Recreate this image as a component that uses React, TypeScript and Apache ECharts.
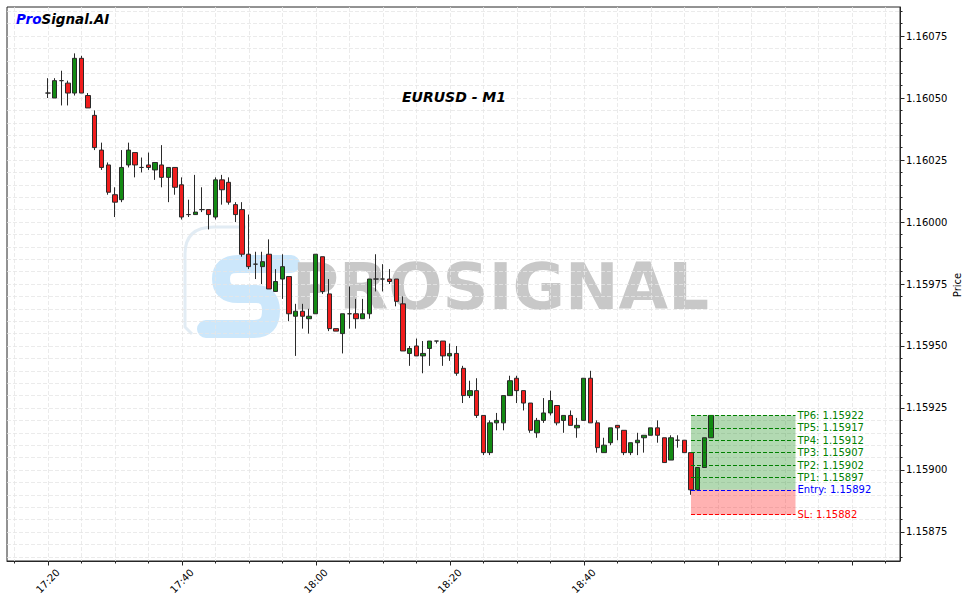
import React, { useEffect, useRef } from 'react';
import * as echarts from 'echarts';

// ---- data ----
const symbolTitle = 'EURUSD - M1';
const startTime = '17:20';
const opens = [
  1.16052, 1.1605, 1.16057, 1.16056, 1.16052, 1.16066, 1.16051, 1.16043, 1.16029, 1.16023,
  1.16011, 1.16009, 1.16023, 1.16028, 1.16022, 1.16023, 1.16021, 1.16023, 1.16018, 1.16022,
  1.16015, 1.16003, 1.16003, 1.16005, 1.16005, 1.16002, 1.16017, 1.16016, 1.16007, 1.16005,
  1.15987, 1.15983, 1.15982, 1.15987, 1.15972, 1.15977, 1.15978, 1.15962, 1.15964, 1.15961,
  1.15963, 1.15986, 1.15971, 1.15957, 1.15955, 1.15963, 1.15963, 1.15961, 1.15963, 1.15977,
  1.15977, 1.15977, 1.15977, 1.15967, 1.15947, 1.1595, 1.15946, 1.15949, 1.15952, 1.15952,
  1.15946, 1.15947, 1.15941, 1.1593, 1.15932, 1.15922, 1.15907, 1.15919, 1.15919, 1.1593,
  1.15937, 1.15932, 1.15927, 1.15915, 1.1592, 1.15923, 1.15926, 1.1592, 1.15922, 1.15917,
  1.1592, 1.15937, 1.15919, 1.15907, 1.15911, 1.15918, 1.15916, 1.15907, 1.15911, 1.15913,
  1.15914, 1.15917, 1.15913, 1.15904, 1.15912, 1.15912, 1.15907, 1.15892, 1.15901, 1.15913,
];
const closes = [
  1.16052, 1.16057, 1.16057, 1.16052, 1.16066, 1.16052, 1.16046, 1.1603, 1.16022, 1.16012,
  1.16008, 1.16022, 1.16029, 1.16023, 1.16022, 1.16022, 1.16024, 1.16018, 1.16022, 1.16014,
  1.16002, 1.16003, 1.16004, 1.16005, 1.16003, 1.16017, 1.16013, 1.16008, 1.16003, 1.15987,
  1.15982, 1.15983, 1.15984, 1.15973, 1.15976, 1.15982, 1.15963, 1.15964, 1.15962, 1.15962,
  1.15987, 1.15972, 1.15957, 1.15956, 1.15963, 1.15963, 1.15961, 1.15963, 1.15977, 1.15977,
  1.15977, 1.15976, 1.15968, 1.15948, 1.15949, 1.15946, 1.15947, 1.15952, 1.15952, 1.15946,
  1.15947, 1.15939, 1.1593, 1.15932, 1.15922, 1.15907, 1.15919, 1.1592, 1.1593, 1.15936,
  1.15932, 1.15927, 1.15916, 1.1592, 1.15923, 1.15928, 1.15919, 1.15922, 1.15918, 1.15918,
  1.15937, 1.15919, 1.15909, 1.1591, 1.15917, 1.15917, 1.15907, 1.15911, 1.15912, 1.15914,
  1.15917, 1.15914, 1.15903, 1.15913, 1.15912, 1.15907, 1.15892, 1.15901, 1.15913, 1.15922,
];
const lows = [
  1.1605, 1.1605, 1.16047, 1.16047, 1.16051, 1.16052, 1.16046, 1.16029, 1.16021, 1.16011,
  1.16002, 1.16008, 1.16022, 1.16018, 1.1602, 1.16021, 1.16017, 1.16014, 1.16008, 1.16011,
  1.16001, 1.16002, 1.16003, 1.16004, 1.15997, 1.16001, 1.16007, 1.16007, 1.16, 1.15986,
  1.15981, 1.15977, 1.15975, 1.15973, 1.15972, 1.15969, 1.1596, 1.15946, 1.15957, 1.15955,
  1.15963, 1.15971, 1.15956, 1.15956, 1.15947, 1.15957, 1.15957, 1.15961, 1.15961, 1.15972,
  1.15972, 1.15975, 1.15966, 1.15948, 1.15942, 1.15946, 1.15939, 1.15942, 1.15951, 1.15942,
  1.15944, 1.15938, 1.15927, 1.15929, 1.15921, 1.15906, 1.15906, 1.15916, 1.15916, 1.1593,
  1.15927, 1.15924, 1.15915, 1.15913, 1.15919, 1.15922, 1.15918, 1.15915, 1.15918, 1.15913,
  1.1592, 1.15919, 1.15907, 1.15907, 1.1591, 1.15912, 1.15906, 1.15906, 1.15906, 1.15907,
  1.15914, 1.15911, 1.15903, 1.15904, 1.15909, 1.15907, 1.1589, 1.15892, 1.15901, 1.15913,
];
const highs = [
  1.16058, 1.16058, 1.16061, 1.16057, 1.16068, 1.16067, 1.16052, 1.16045, 1.16032, 1.16024,
  1.16014, 1.16029, 1.16032, 1.16028, 1.16026, 1.16028, 1.16024, 1.16031, 1.16022, 1.16022,
  1.16018, 1.16009, 1.16019, 1.16014, 1.16005, 1.16018, 1.16019, 1.16018, 1.16008, 1.16008,
  1.16003, 1.15988, 1.15988, 1.15993, 1.15981, 1.15987, 1.15978, 1.15967, 1.15967, 1.15965,
  1.15987, 1.15986, 1.15977, 1.15957, 1.15963, 1.15974, 1.15969, 1.15969, 1.15977, 1.15987,
  1.15983, 1.15981, 1.15977, 1.1597, 1.1595, 1.15953, 1.15952, 1.15952, 1.15952, 1.15952,
  1.15951, 1.1595, 1.15942, 1.15936, 1.15937, 1.15922, 1.1592, 1.15923, 1.1593, 1.15938,
  1.15938, 1.15932, 1.15927, 1.15921, 1.15929, 1.15932, 1.15926, 1.15922, 1.15924, 1.15921,
  1.15937, 1.1594, 1.1592, 1.15913, 1.15917, 1.15918, 1.15916, 1.15911, 1.15915, 1.15914,
  1.15917, 1.1592, 1.15913, 1.15914, 1.15914, 1.15912, 1.15907, 1.15901, 1.15913, 1.15922,
];

const entryPrice = 1.15892;
const stopLoss = 1.15882;
const takeProfits = [1.15897, 1.15902, 1.15907, 1.15912, 1.15917, 1.15922];
const takeProfitNames = ['TP1', 'TP2', 'TP3', 'TP4', 'TP5', 'TP6'];
const signalStartIndex = 96;
const signalEndIndex = 111.6;

const yMajorTicks = [1.15875, 1.159, 1.15925, 1.1595, 1.15975, 1.16, 1.16025, 1.1605, 1.16075];
const xMajorTicks = [0, 20, 40, 60, 80, 100, 120];
const xLabelTicks = [0, 20, 40, 60, 80];

// ---- axis extents / styling ----
const xMin = -6.1;
const xMax = 127.2;
const yMin = 1.158633;
const yMax = 1.160867;
const FONT = '"DejaVu Sans", "Noto Sans", sans-serif';
const AXIS_COLOR = '#262626';

const xMinorTicks: number[] = [];
for (let t = -5; t <= 125; t += 5) xMinorTicks.push(t);
const yMinorTicks: number[] = [];
for (let k = 115865; k <= 116085; k += 5) yMinorTicks.push(k / 100000);

const pad = (n: number) => (n < 10 ? '0' + n : '' + n);
const fmtTime = (t: number) => {
  const [h, m] = startTime.split(':').map(Number);
  const tot = h * 60 + m + Math.round(t);
  return pad(Math.floor(tot / 60)) + ':' + pad(tot % 60);
};

echarts.graphic.registerShape(
  'wmS',
  echarts.graphic.extendPath(
    'M 291 264 L 238 264 Q 221 264 221 279 Q 221 294 238 294 L 256 294 Q 271 294 271 311 Q 271 329 254 329 L 206 329',
    {}
  )
);
echarts.graphic.registerShape(
  'wmO',
  echarts.graphic.extendPath('M 192 334 L 185 327 L 185 254 Q 185 227 214 227 L 246 227', {})
);

export default function App() {
  const ref = useRef<HTMLDivElement>(null);
  useEffect(() => {
    document.body.style.margin = '0';
    if (!ref.current) return;
    const chart = echarts.init(ref.current, undefined, { renderer: 'svg' });

    const candleData = opens.map((o, i) => [i, o, closes[i], lows[i], highs[i]]);
    const tpTop = Math.max(...takeProfits);

    const levelLine = (price: number, text: string, color: string) => [
      {
        coord: [signalStartIndex, price],
        lineStyle: { color, type: [4, 2], width: 1 },
        label: {
          show: true,
          position: 'end',
          formatter: text,
          color,
          fontSize: 10,
          fontFamily: FONT,
          distance: 2,
        },
      },
      { coord: [signalEndIndex, price] },
    ];

    const markLines: any[] = takeProfits.map((tp, k) =>
      levelLine(tp, `${takeProfitNames[k]}: ${tp.toFixed(5)}`, '#008000')
    );
    markLines.push(levelLine(entryPrice, `Entry: ${entryPrice.toFixed(5)}`, '#0000ff'));
    markLines.push(levelLine(stopLoss, `SL: ${stopLoss.toFixed(5)}`, '#ff0000'));

    const option: any = {
      animation: false,
      grid: {
        left: 7,
        right: 69,
        top: 7,
        bottom: 42,
        show: true,
        borderColor: AXIS_COLOR,
        borderWidth: 1,
        backgroundColor: 'transparent',
      },
      xAxis: [
        {
          type: 'value',
          min: xMin,
          max: xMax,
          position: 'bottom',
          axisLine: { show: true, onZero: false, lineStyle: { color: AXIS_COLOR } },
          axisTick: { show: true, customValues: xMinorTicks, length: 2.5, lineStyle: { color: AXIS_COLOR } },
          axisLabel: { show: false },
          splitLine: { show: true, lineStyle: { color: '#e6e6e6', type: [4, 2], width: 0.8 } },
        },
        {
          type: 'value',
          min: xMin,
          max: xMax,
          position: 'bottom',
          axisLine: { show: false, onZero: false },
          axisTick: { show: true, customValues: xMajorTicks, length: 4.5, lineStyle: { color: AXIS_COLOR } },
          axisLabel: {
            show: true,
            customValues: xLabelTicks,
            formatter: (v: number) => fmtTime(v),
            rotate: 45,
            align: 'center',
            verticalAlign: 'middle',
            margin: 20,
            fontSize: 10,
            color: '#000',
            fontFamily: FONT,
          },
          splitLine: { show: false },
        },
      ],
      yAxis: [
        {
          type: 'value',
          min: yMin,
          max: yMax,
          position: 'right',
          axisLine: { show: true, onZero: false, lineStyle: { color: AXIS_COLOR } },
          axisTick: { show: true, customValues: yMinorTicks, length: 2.5, lineStyle: { color: AXIS_COLOR } },
          axisLabel: { show: false },
          splitLine: { show: true, lineStyle: { color: '#e6e6e6', type: [4, 2], width: 0.8 } },
        },
        {
          type: 'value',
          min: yMin,
          max: yMax,
          position: 'right',
          axisLine: { show: false, onZero: false },
          axisTick: { show: true, customValues: yMajorTicks, length: 4.5, lineStyle: { color: AXIS_COLOR } },
          axisLabel: {
            show: true,
            customValues: yMajorTicks,
            formatter: (v: number) => v.toFixed(5),
            margin: 6,
            fontSize: 10,
            color: '#000',
            fontFamily: FONT,
          },
          splitLine: { show: false },
        },
      ],
      series: [
        {
          type: 'line',
          xAxisIndex: 0,
          yAxisIndex: 0,
          data: [],
          z: 1,
          silent: true,
          markArea: {
            silent: true,
            data: [
              [
                { coord: [signalStartIndex, entryPrice], itemStyle: { color: 'rgba(0,128,0,0.3)' } },
                { coord: [signalEndIndex, tpTop] },
              ],
              [
                { coord: [signalStartIndex, stopLoss], itemStyle: { color: 'rgba(255,0,0,0.3)' } },
                { coord: [signalEndIndex, entryPrice] },
              ],
            ],
          },
          markLine: {
            silent: true,
            symbol: ['none', 'none'],
            data: markLines,
          },
        },
        {
          type: 'candlestick',
          xAxisIndex: 0,
          yAxisIndex: 0,
          data: candleData,
          encode: { x: 0, y: [1, 2, 3, 4] },
          barWidth: 4.8,
          z: 3,
          silent: true,
          itemStyle: {
            color: '#138a13',
            color0: '#f01d1d',
            borderColor: '#2a2a2a',
            borderColor0: '#2a2a2a',
            borderColorDoji: '#2a2a2a',
            borderWidth: 1,
          },
        },
      ],
      graphic: [
        {
          type: 'wmO',
          z: 0,
          silent: true,
          style: { fill: 'none', stroke: '#e2ecf4', lineWidth: 3 },
        },
        {
          type: 'wmS',
          z: 0,
          silent: true,
          style: { fill: 'none', stroke: '#cce7fb', lineWidth: 18, lineCap: 'round', lineJoin: 'round' },
        },
        {
          type: 'text',
          z: 0,
          silent: true,
          x: 292,
          y: 287,
          style: {
            text: 'PROSIGNAL',
            font: `bold 64px ${FONT}`,
            fill: '#c8c8c8',
            align: 'left',
            verticalAlign: 'middle',
          },
        },
        {
          type: 'text',
          z: 100,
          x: 454,
          y: 97,
          style: {
            text: symbolTitle,
            font: `italic bold 14px ${FONT}`,
            fill: '#000',
            align: 'center',
            verticalAlign: 'middle',
          },
        },
        {
          type: 'text',
          z: 100,
          x: 16,
          y: 19,
          style: {
            text: '{a|Pro}{b|Signal.AI}',
            align: 'left',
            verticalAlign: 'middle',
            rich: {
              a: { fill: '#0000ff', font: `italic bold 13.5px ${FONT}` },
              b: { fill: '#000000', font: `italic bold 13.5px ${FONT}` },
            },
          },
        },
        {
          type: 'text',
          z: 100,
          x: 957,
          y: 285,
          rotation: Math.PI / 2,
          style: {
            text: 'Price',
            font: `10px ${FONT}`,
            fill: '#000',
            align: 'center',
            verticalAlign: 'middle',
          },
        },
      ],
    };

    chart.setOption(option);
    return () => chart.dispose();
  }, []);

  return <div ref={ref} style={{ width: 969, height: 603 }} />;
}
